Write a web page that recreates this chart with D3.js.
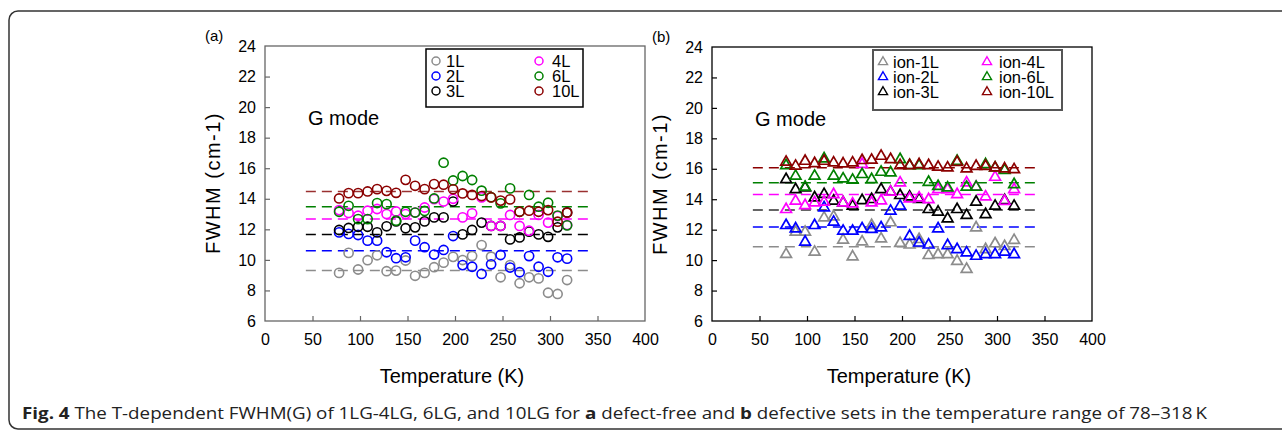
<!DOCTYPE html>
<html><head><meta charset="utf-8">
<script src="https://cdn.jsdelivr.net/npm/d3@7"></script>
<style>body{margin:0;background:#fff}svg{display:block}</style>
</head><body><svg id="c" width="1282" height="430"></svg>
<script>
const temps = [78,88,98,108,118,128,138,148,158,168,178,188,198,208,218,228,238,248,258,268,278,288,298,308,318];
const xTicks = [0,50,100,150,200,250,300,350,400];
const yTicks = [6,8,10,12,14,16,18,20,22,24];

// (a) defect-free
const seriesA = ["1L","2L","3L","4L","6L","10L"];
const fwhm1L = [9.15,10.46,9.37,9.98,10.3,9.26,9.30,9.96,8.96,9.15,9.52,9.82,10.2,9.99,10.25,10.97,10.21,8.86,9.66,8.47,8.86,8.79,7.85,7.77,8.68];
const fwhm2L = [11.80,11.7,11.63,11.26,11.26,10.50,10.11,10.17,11.26,10.83,10.35,10.65,11.56,9.66,9.55,9.08,9.71,10.32,9.5,9.19,10.25,9.55,9.22,10.17,10.08];
const fwhm3L = [11.96,12.09,12.17,12.17,11.80,12.2,12.52,12.07,12.13,12.52,12.78,12.78,13.82,11.67,11.96,12.44,12.22,12.22,11.34,11.47,11.85,11.67,11.51,12.13,13.11];
const fwhm4L = [13.26,13.07,12.89,13.22,13.33,13.0,13.17,13.0,13.1,13.43,13.98,13.82,14.0,12.78,13.05,14.09,12.22,12.22,12.94,12.22,11.91,12.94,12.44,12.87,12.28];
const fwhm6L = [13.15,13.54,12.67,12.67,13.72,13.65,12.57,13.15,13.1,13.2,14.02,16.36,15.2,15.49,15.23,14.53,14.1,13.7,14.68,13.15,14.25,13.48,13.74,12.9,12.26];
const fwhm10L = [14.02,14.37,14.37,14.48,14.63,14.52,14.39,15.24,14.85,14.63,14.96,14.92,14.62,14.35,14.25,14.18,14.09,13.88,13.96,13.15,13.22,13.15,13.26,12.5,13.09];
const meanA = [9.3,10.6,11.67,12.67,13.48,14.48];

// (b) defective
const seriesB = ["ion-1L","ion-2L","ion-3L","ion-4L","ion-6L","ion-10L"];
const ion1L = [10.38,11.84,11.84,10.53,12.78,12.85,11.32,10.22,11.2,12.28,11.4,12.46,11.1,11.0,11.36,10.31,10.37,10.37,9.93,9.4,12.13,10.7,11.08,10.9,11.3];
const ion2L = [12.28,12.06,11.19,12.28,13.44,12.5,11.91,11.91,12.06,12.02,12.13,13.22,13.55,11.57,11.13,11.0,12.06,10.96,10.7,10.48,10.26,10.37,10.37,10.53,10.37];
const ion3L = [15.3,14.64,14.75,14.1,14.32,13.88,13.77,13.55,13.92,13.99,14.64,14.47,14.25,14.16,14.0,13.33,13.16,12.72,13.33,12.94,13.82,13.0,13.55,13.92,13.55];
const ion4L = [13.33,13.88,13.59,13.77,13.81,14.31,13.77,13.7,16.3,13.77,13.9,14.47,15.08,14.03,14.09,13.98,14.64,14.64,14.31,15.08,14.8,14.16,15.45,13.87,14.64];
const ion6L = [16.22,15.52,14.8,15.52,16.66,15.52,15.34,15.26,15.63,15.3,15.78,15.74,16.61,16.22,16.22,15.12,14.85,14.75,16.5,14.8,14.8,16.28,16.06,15.9,14.97];
const ion10L = [16.44,16.18,16.5,16.35,16.5,16.39,16.33,16.39,16.55,16.57,16.83,16.61,16.22,16.22,16.28,16.22,16.11,16.06,16.43,16.0,16.17,16.17,16.06,16.0,15.95];
const meanB = [10.88,12.17,13.29,14.31,15.08,16.07];
const meanRange = [43,340];

const colors = ["#8c8c8c","#0000ff","#000000","#ff00ff","#008000","#8b0000"];
const dashColorsA = ["#8c8c8c","#0000ff","#000000","#ff00ff","#008000","#9a3030"];
const dashColorsB = ["#8c8c8c","#0000ff","#333333","#ff00ff","#008000","#8b0000"];

const svg = d3.select("#c");
svg.append("rect").attr("width",1282).attr("height",430).attr("fill","#fff");
svg.append("rect").attr("x",9).attr("y",11).attr("width",1300).attr("height",418).attr("rx",9)
  .attr("fill","none").attr("stroke","#333").attr("stroke-width",1.5);

const FONT = "'Liberation Sans', Arial, sans-serif";

function panel(opt){
  const x = d3.scaleLinear().domain([0,400]).range([opt.left, opt.right]);
  const y = d3.scaleLinear().domain([6,24]).range([opt.bottom, opt.top]);
  const g = svg.append("g");
  g.append("rect").attr("x",opt.left).attr("y",opt.top).attr("width",opt.right-opt.left).attr("height",opt.bottom-opt.top)
    .attr("fill","none").attr("stroke",opt.frame).attr("stroke-width",1.3);
  const ya = d3.axisLeft(y).tickValues(yTicks).tickSize(-5).tickPadding(9);
  const yg = g.append("g").attr("transform",`translate(${opt.left},0)`).call(ya);
  const xa = d3.axisBottom(x).tickValues(xTicks).tickSize(-5).tickPadding(10);
  const xg = g.append("g").attr("transform",`translate(0,${opt.bottom})`).call(xa);
  [yg,xg].forEach(a=>{
    a.select(".domain").remove();
    a.selectAll(".tick line").attr("stroke",opt.frame).attr("stroke-width",1.2);
    a.selectAll(".tick text").attr("font-family",FONT).attr("font-size",16).attr("fill","#000");
  });
  xg.selectAll(".tick").filter(d=>d===0||d===400).select("line").remove();
  yg.selectAll(".tick").filter(d=>d===6||d===24).select("line").remove();
  xg.selectAll(".tick text").attr("dy","0.9em");
  g.append("text").attr("x",(opt.left+opt.right)/2 - 3).attr("y",opt.bottom+62).attr("text-anchor","middle")
    .attr("font-family",FONT).attr("font-size",20).text("Temperature (K)");
  g.append("text").attr("transform",`translate(${opt.left-45},${opt.top+137}) rotate(-90)`).attr("text-anchor","middle")
    .attr("font-family",FONT).attr("font-size",20).attr("letter-spacing",1.5).text("FWHM (cm-1)");
  g.append("text").attr("x",opt.left-60).attr("y",opt.top-5).attr("font-family",FONT).attr("font-size",15).text(opt.tag);
  g.append("text").attr("x",opt.left+43).attr("y",opt.top+79).attr("font-family",FONT).attr("font-size",20).text("G mode");
  opt.means.forEach((m,i)=>{
    g.append("line").attr("x1",x(meanRange[0])).attr("x2",x(meanRange[1])).attr("y1",y(m)).attr("y2",y(m))
      .attr("stroke",opt.dash[i]).attr("stroke-width",1.5).attr("stroke-dasharray","10,6");
  });
  opt.data.forEach((arr,i)=>{
    const pts = g.append("g");
    arr.forEach((v,j)=>{
      if(opt.shape==="circle"){
        pts.append("circle").attr("cx",x(temps[j])).attr("cy",y(v)).attr("r",4.6)
          .attr("fill","none").attr("stroke",colors[i]).attr("stroke-width",1.6);
      } else {
        pts.append("path").attr("d",d3.symbol(d3.symbolTriangle,50)())
          .attr("transform",`translate(${x(temps[j])},${y(v)})`)
          .attr("fill","none").attr("stroke",colors[i]).attr("stroke-width",1.7);
      }
    });
  });
  const L = opt.legend;
  g.append("rect").attr("x",L.x).attr("y",L.y).attr("width",L.w).attr("height",L.h)
    .attr("fill","#fff").attr("stroke",L.stroke).attr("stroke-width",L.sw);
  opt.names.forEach((n,i)=>{
    const col = Math.floor(i/3), row = i%3;
    const mx = L.x + L.mx[col], my = L.y + 12 + row*15;
    if(opt.shape==="circle"){
      g.append("circle").attr("cx",mx).attr("cy",my).attr("r",4).attr("fill","none").attr("stroke",colors[i]).attr("stroke-width",1.5);
    } else {
      g.append("path").attr("d",d3.symbol(d3.symbolTriangle,36)()).attr("transform",`translate(${mx},${my})`)
        .attr("fill","none").attr("stroke",colors[i]).attr("stroke-width",1.4);
    }
    g.append("text").attr("x",L.x+L.tx[col]).attr("y",my+5.5).attr("font-family",FONT).attr("font-size",L.fs).text(n);
  });
  return {x,y};
}

const dataA = [fwhm1L,fwhm2L,fwhm3L,fwhm4L,fwhm6L,fwhm10L];
const dataB = [ion1L,ion2L,ion3L,ion4L,ion6L,ion10L];

panel({left:265,right:645,top:46,bottom:321,frame:"#666",tag:"(a)",means:meanA,dash:dashColorsA,data:dataA,
  shape:"circle",names:seriesA,
  legend:{x:426,y:49,w:157,h:58,stroke:"#000",sw:1.5,mx:[10,113],tx:[20,126],fs:16.5}});
panel({left:712,right:1092,top:47,bottom:321,frame:"#000",tag:"(b)",means:meanB,dash:dashColorsB,data:dataB,
  shape:"triangle",names:seriesB,
  legend:{x:873,y:50,w:189,h:60,stroke:"#555",sw:2,mx:[10,114],tx:[20,126],fs:16.5}});

const cap = svg.append("text").attr("x",22).attr("y",419).attr("font-family","'Open Sans','Noto Sans',sans-serif")
  .attr("font-size",16).attr("fill","#222").attr("textLength",1185).attr("lengthAdjust","spacingAndGlyphs");
cap.append("tspan").attr("font-weight","bold").text("Fig. 4");
cap.append("tspan").text(" The T-dependent FWHM(G) of 1LG-4LG, 6LG, and 10LG for ");
cap.append("tspan").attr("font-weight","bold").text("a");
cap.append("tspan").text(" defect-free and ");
cap.append("tspan").attr("font-weight","bold").text("b");
cap.append("tspan").text(" defective sets in the temperature range of 78\u2013318\u2009K");
</script></body></html>
